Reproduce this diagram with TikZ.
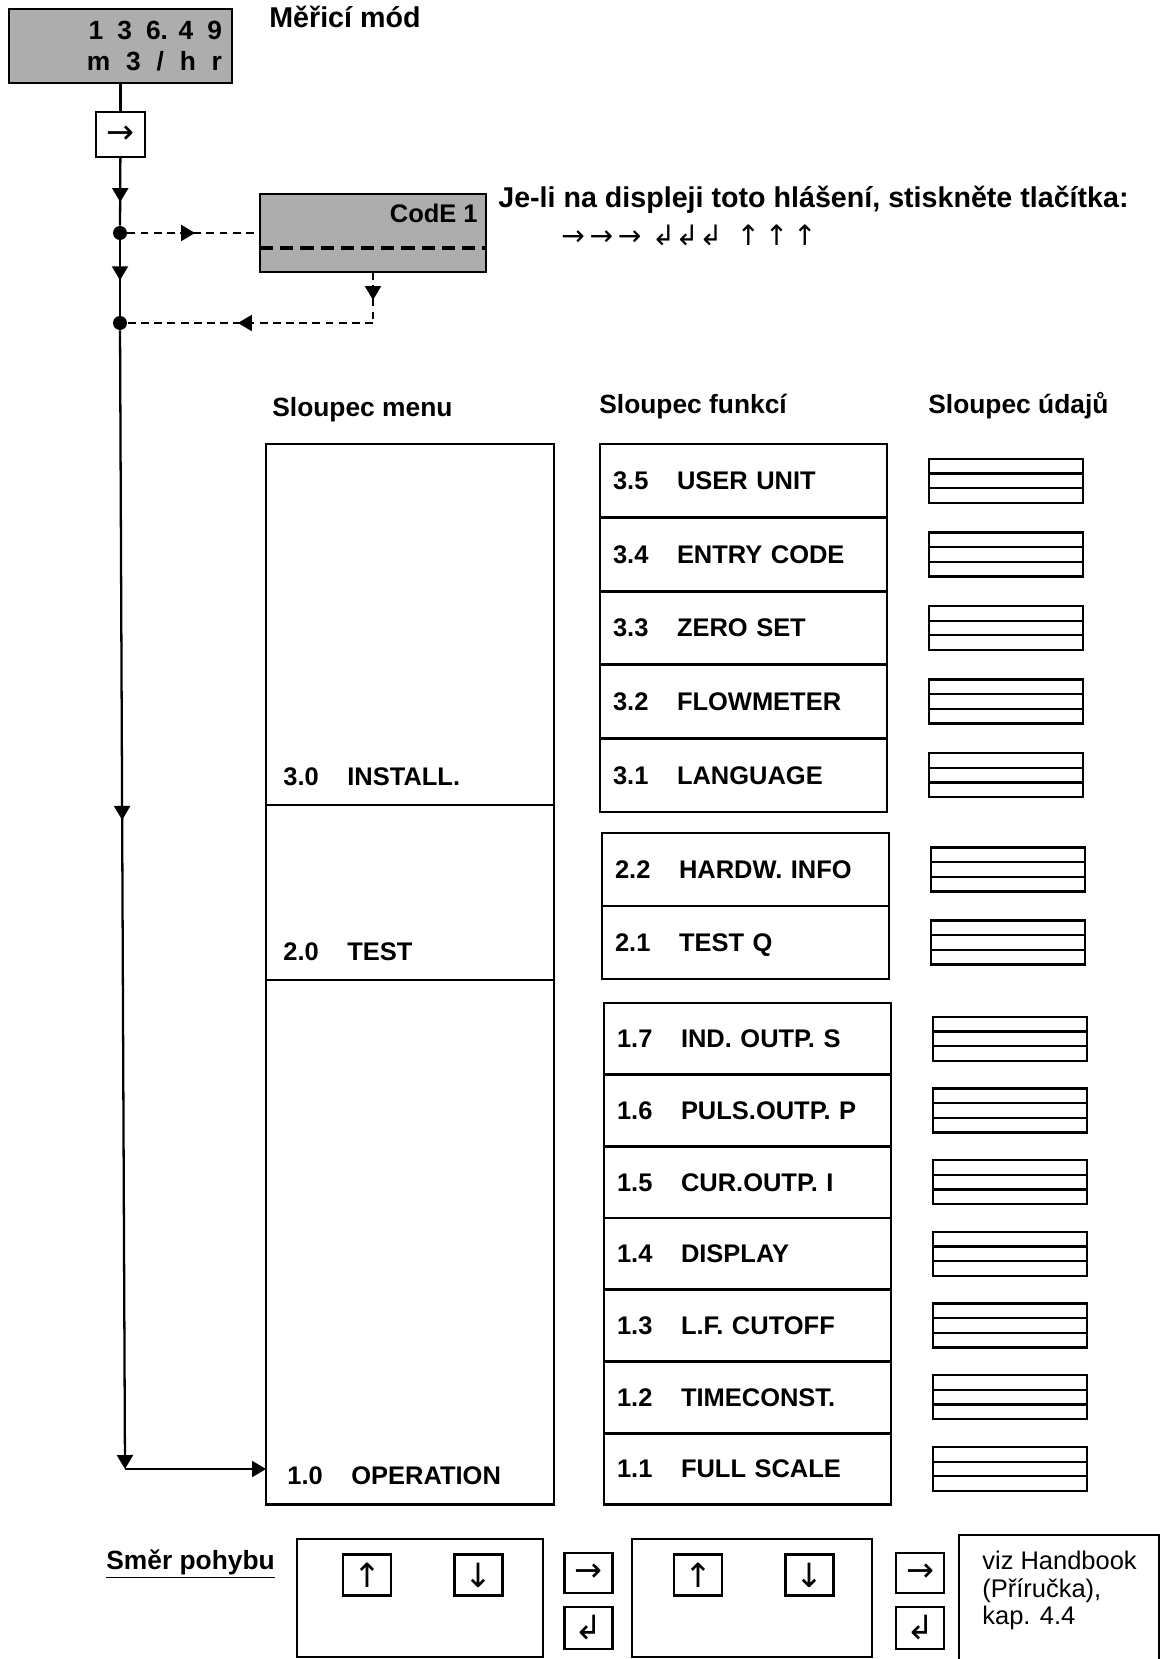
\documentclass[tikz,border=0pt]{standalone}
\usepackage{fontspec}
\setmainfont{Liberation Sans}
\newfontfamily\symfont{DejaVu Sans}
\usepackage{tikz}
\usetikzlibrary{
  positioning,
  arrows.meta,
  calc,
  decorations.markings
}
\newcommand{\fnum}[1]{\makebox[1.28cm][l]{#1}}
\newcommand{\lcdgap}{\hspace{8pt}}
\tikzset{
  >={Triangle[width=0.32cm,length=0.28cm]},
  flow/.style={line width=1.3pt},
  dashflow/.style={line width=1.2pt,dash pattern=on 4.5pt off 3pt},
  midarrow/.style={postaction={decorate},decoration={markings,mark=at position #1 with {\arrow{>}}}},
  junction/.style={circle,fill,inner sep=0pt,minimum size=0.28cm},
  lcd/.style={rectangle,draw,line width=1.6pt,fill=black!32,outer sep=0pt},
  keybox/.style={rectangle,draw,line width=1.4pt,inner sep=0pt,minimum width=0.96cm,minimum height=0.82cm,font=\symfont\fontsize{19}{19}\selectfont},
  panel/.style={rectangle,draw,line width=1.6pt,outer sep=0pt},
  menubox/.style={rectangle,draw,line width=1.6pt,outer sep=0pt,minimum width=5.76cm},
  menulabel/.style={anchor=west,inner sep=0pt,font=\fontsize{14.5}{17}\selectfont\bfseries},
  func/.style={rectangle,draw,line width=1.6pt,outer sep=0pt,minimum width=5.74cm,minimum height=#1,text width=5.22cm,align=left,inner xsep=0.26cm,text depth=0pt,font=\fontsize{14.5}{17}\selectfont\bfseries},
  data/.style={rectangle,draw,line width=1.3pt,minimum width=3.08cm,minimum height=0.88cm,
    path picture={
      \draw[line width=1.3pt] ($(path picture bounding box.north west)!1/3!(path picture bounding box.south west)$) -- ($(path picture bounding box.north east)!1/3!(path picture bounding box.south east)$);
      \draw[line width=1.3pt] ($(path picture bounding box.north west)!2/3!(path picture bounding box.south west)$) -- ($(path picture bounding box.north east)!2/3!(path picture bounding box.south east)$);
    }},
  colhead/.style={anchor=base west,inner sep=0pt,font=\fontsize{15}{18}\selectfont\bfseries},
  bigtext/.style={anchor=base west,inner sep=0pt,font=\fontsize{16.3}{19}\selectfont\bfseries}
}

\begin{document}
\begin{tikzpicture}[x=0.02cm,y=-0.02cm]
    \useasboundingbox (0,0) rectangle (1166,1659);

    % measuring mode
    \node[lcd,minimum width=4.46cm,minimum height=1.48cm,text width=4.06cm,align=right,inner xsep=0.2cm,font=\fontsize{15}{17.6}\selectfont\bfseries] (display) at (120.5,46) {1\lcdgap3\lcdgap6.\hspace{6pt}4\lcdgap9\\m\hspace{9pt}3\hspace{9pt}/\hspace{9pt}h\hspace{9pt}r};
    \node[bigtext] (mode) at (269,28) {Měřicí mód};
    \node[keybox,minimum width=0.98cm,minimum height=0.9cm] (key) at (120.5,134.5) {→};

    \node[junction] (dot1) at (120,233) {};
    \node[junction] (dot2) at (120,323) {};
    \coordinate (corner) at (125,1469);

    % code prompt
    \node[lcd,minimum width=4.52cm,minimum height=1.56cm] (code) at (373,233) {};
    \node[anchor=base east,inner sep=0pt,font=\fontsize{14.5}{17}\selectfont\bfseries] (codetext) at (478,223) {CodE 1};
    \draw[line width=2pt,dash pattern=on 7.5pt off 4pt] ([yshift=-0.3cm]code.west) -- ([yshift=-0.3cm]code.east);
    \coordinate (bend) at (code.south |- dot2);
    \node[bigtext] (hint) at (498,208) {Je-li na displeji toto hlášení, stiskněte tlačítka:};
    \node[anchor=base west,inner sep=0pt,font=\symfont\fontsize{16}{16}\selectfont] (keyseq) at (561,245) {→\,→\,→\hspace{6pt}↲↲↲\hspace{8pt}↑\,↑\,↑};

    \draw[flow] (display) -- (key);
    \draw[flow,midarrow=0.65] (key) -- (dot1);
    \draw[flow,midarrow=0.53] (dot1) -- (dot2);
    \draw[flow,midarrow=0.43,->] (dot2) -- (corner);
    \draw[dashflow,midarrow=0.51] (dot1) -- (code.west);
    \draw[dashflow,midarrow=0.55] (code.south) -- (bend);
    \draw[dashflow,midarrow=0.55] (bend) -- (dot2);

    % columns
    \node[colhead] (menuhead) at (272,416) {Sloupec menu};
    \node[colhead] (funchead) at (599,413) {Sloupec funkcí};
    \node[colhead] (datahead) at (928,413) {Sloupec údajů};

    \node[menubox,minimum height=7.22cm] (menu3) at (410,624.5) {};
    \node[menubox,minimum height=3.5cm,below=0pt of menu3] (menu2) {};
    \node[menubox,minimum height=10.5cm,below=0pt of menu2] (menu1) {};
    \node[menulabel] (menu3label) at ([shift={(0.34cm,0.56cm)}]menu3.south west) {\fnum{3.0}INSTALL.};
    \node[menulabel] (menu2label) at ([shift={(0.34cm,0.56cm)}]menu2.south west) {\fnum{2.0}TEST};
    \node[menulabel] (menu1label) at ([shift={(0.42cm,0.58cm)}]menu1.south west) {\fnum{1.0}OPERATION};
    \draw[flow,->] (corner) -- (menu1.west |- corner);

    \node[func=1.472cm] (f35) at (743.5,480.8) {\fnum{3.5}USER UNIT};
    \node[func=1.472cm,below=0pt of f35] (f34) {\fnum{3.4}ENTRY CODE};
    \node[func=1.472cm,below=0pt of f34] (f33) {\fnum{3.3}ZERO SET};
    \node[func=1.472cm,below=0pt of f33] (f32) {\fnum{3.2}FLOWMETER};
    \node[func=1.472cm,below=0pt of f32] (f31) {\fnum{3.1}LANGUAGE};

    \node[func=1.46cm] (f22) at (745.5,869.5) {\fnum{2.2}HARDW. INFO};
    \node[func=1.46cm,below=0pt of f22] (f21) {\fnum{2.1}TEST Q};

    \node[func=1.434cm] (f17) at (747.5,1038.85) {\fnum{1.7}IND. OUTP. S};
    \node[func=1.434cm,below=0pt of f17] (f16) {\fnum{1.6}PULS.OUTP. P};
    \node[func=1.434cm,below=0pt of f16] (f15) {\fnum{1.5}CUR.OUTP. I};
    \node[func=1.434cm,below=0pt of f15] (f14) {\fnum{1.4}DISPLAY};
    \node[func=1.434cm,below=0pt of f14] (f13) {\fnum{1.3}L.F. CUTOFF};
    \node[func=1.434cm,below=0pt of f13] (f12) {\fnum{1.2}TIMECONST.};
    \node[func=1.434cm,below=0pt of f12] (f11) {\fnum{1.1}FULL SCALE};

    \node[data,right=0.82cm of f35] (d35) {};
    \node[data,right=0.82cm of f34] (d34) {};
    \node[data,right=0.82cm of f33] (d33) {};
    \node[data,right=0.82cm of f32] (d32) {};
    \node[data,right=0.82cm of f31] (d31) {};
    \node[data,right=0.82cm of f22] (d22) {};
    \node[data,right=0.82cm of f21] (d21) {};
    \node[data,right=0.82cm of f17] (d17) {};
    \node[data,right=0.82cm of f16] (d16) {};
    \node[data,right=0.82cm of f15] (d15) {};
    \node[data,right=0.82cm of f14] (d14) {};
    \node[data,right=0.82cm of f13] (d13) {};
    \node[data,right=0.82cm of f12] (d12) {};
    \node[data,right=0.82cm of f11] (d11) {};

    % direction of movement
    \node[colhead] (direction) at (106,1569) {\underline{Směr pohybu}};
    \node[panel,minimum width=4.92cm,minimum height=2.36cm] (panelA) at (420,1598) {};
    \node[keybox] (upA) at (367,1575) {↑};
    \node[keybox] (downA) at (478.5,1575) {↓};
    \node[keybox,minimum height=0.8cm] (nextA) at (588.5,1573) {→};
    \node[keybox,minimum height=0.84cm] (enterA) at (588.5,1628) {↲};
    \node[panel,minimum width=4.8cm,minimum height=2.36cm] (panelB) at (752,1598) {};
    \node[keybox] (upB) at (698,1575) {↑};
    \node[keybox] (downB) at (809.5,1575) {↓};
    \node[keybox,minimum height=0.8cm] (nextB) at (920,1573) {→};
    \node[keybox,minimum height=0.84cm] (enterB) at (920,1628) {↲};
    \node[panel,minimum width=4cm,minimum height=2.9cm] (handbook) at (1059,1607.5) {};
    \node[anchor=north west,inner sep=0pt,align=left,font=\fontsize{14.5}{15.6}\selectfont] (handbooktext) at (982,1551) {viz Handbook\\(Příručka),\\kap. 4.4};
\end{tikzpicture}
\end{document}
